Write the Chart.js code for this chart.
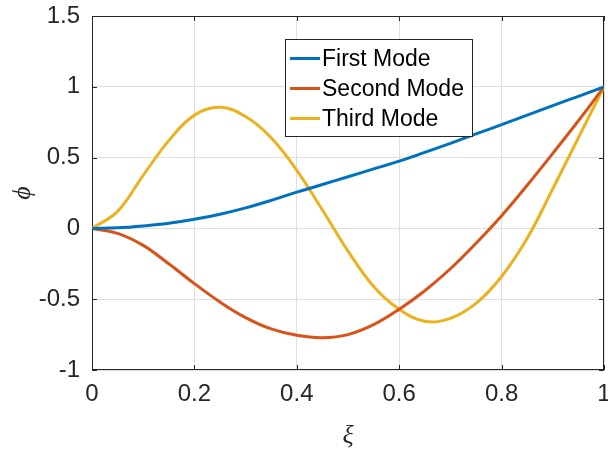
<!DOCTYPE html>
<html>
<head>
<meta charset="utf-8">
<script src="https://cdn.jsdelivr.net/npm/chart.js@4.4.1/dist/chart.umd.min.js"></script>
<style>
  html, body { margin: 0; padding: 0; background: #fff; }
  #wrap { width: 608px; height: 456px; }
</style>
</head>
<body>
<div id="wrap"><canvas id="modeChart" width="608" height="456"></canvas></div>
<script>
// xi positions (every 0.05)
const xi = [0, 0.05, 0.1, 0.15, 0.2, 0.25, 0.3, 0.35, 0.4, 0.45, 0.5,
            0.55, 0.6, 0.65, 0.7, 0.75, 0.8, 0.85, 0.9, 0.95, 1];
const firstMode = [0, 0.004, 0.017, 0.036, 0.064, 0.10, 0.145, 0.198, 0.256, 0.31, 0.365,
                   0.42, 0.475, 0.537, 0.601, 0.667, 0.733, 0.80, 0.867, 0.933, 1];
const secondMode = [0, -0.035, -0.12, -0.25, -0.39, -0.52, -0.63, -0.71, -0.755, -0.772, -0.75,
                    -0.68, -0.571, -0.44, -0.285, -0.105, 0.09, 0.305, 0.53, 0.76, 1];
const thirdMode = [0, 0.12, 0.375, 0.62, 0.80, 0.855, 0.79, 0.64, 0.41, 0.13, -0.16,
                   -0.41, -0.571, -0.655, -0.635, -0.53, -0.34, -0.07, 0.28, 0.64, 1];
const seriesNames = ['First Mode', 'Second Mode', 'Third Mode'];
const seriesColors = ['#0072BD', '#D95319', '#EDB120'];
const xTicks = [0, 0.2, 0.4, 0.6, 0.8, 1];
const yTicks = [-1, -0.5, 0, 0.5, 1, 1.5];

const toPoints = (ys) => ys.map((y, i) => ({ x: xi[i], y: y }));
const fmt = (v) => String(parseFloat(Number(v).toFixed(2)));

// frame box + inward ticks like matlab axes
const boxPlugin = {
  id: 'boxPlugin',
  beforeDatasetsDraw(chart) {
    const { ctx, chartArea: a, scales } = chart;
    ctx.save();
    ctx.strokeStyle = '#262626';
    ctx.lineWidth = 1;
    ctx.strokeRect(a.left + 0.5, a.top + 0.5, a.right - a.left - 1, a.bottom - a.top - 1);
    ctx.beginPath();
    scales.x.ticks.forEach(t => {
      const px = Math.round(scales.x.getPixelForValue(t.value)) + 0.5;
      ctx.moveTo(px, a.bottom); ctx.lineTo(px, a.bottom - 5);
      ctx.moveTo(px, a.top); ctx.lineTo(px, a.top + 5);
    });
    scales.y.ticks.forEach(t => {
      const py = Math.round(scales.y.getPixelForValue(t.value)) + 0.5;
      ctx.moveTo(a.left, py); ctx.lineTo(a.left + 5, py);
      ctx.moveTo(a.right, py); ctx.lineTo(a.right - 5, py);
    });
    ctx.stroke();
    ctx.restore();
  },
  afterDraw(chart) {
    // legend box inside the axes
    const ctx = chart.ctx;
    const bx = 285, by = 39, bw = 187, bh = 97;
    ctx.save();
    ctx.fillStyle = '#fff';
    ctx.fillRect(bx, by, bw, bh);
    ctx.strokeStyle = '#262626';
    ctx.lineWidth = 1;
    ctx.strokeRect(bx + 0.5, by + 0.5, bw, bh);
    ctx.font = '23px "Liberation Sans", Arial, sans-serif';
    ctx.textBaseline = 'middle';
    chart.data.datasets.forEach((ds, i) => {
      const y = by + 19.5 + i * 30;
      ctx.strokeStyle = ds.borderColor;
      ctx.lineWidth = 3;
      ctx.beginPath();
      ctx.moveTo(bx + 5, y); ctx.lineTo(bx + 35, y);
      ctx.stroke();
      ctx.fillStyle = '#000';
      ctx.fillText(ds.label, bx + 37, y + 1);
    });
    ctx.restore();
  }
};

const ctx = document.getElementById('modeChart').getContext('2d');

const modeChart = new Chart(ctx, {
  type: 'line',
  data: {
    datasets: [firstMode, secondMode, thirdMode].map((ys, i) => ({
      label: seriesNames[i],
      data: toPoints(ys),
      borderColor: seriesColors[i],
      backgroundColor: seriesColors[i],
      borderWidth: 3,
      pointRadius: 0,
      tension: 0.4,
      fill: false,
    })),
  },
  options: {
    responsive: false,
    animation: false,
    devicePixelRatio: 1,
    layout: { padding: { left: 0, right: 4, top: 16, bottom: 0 } },
    plugins: {
      legend: { display: false },
      tooltip: { enabled: false },
    },
    scales: {
      x: {
        type: 'linear',
        min: 0,
        max: 1,
        afterBuildTicks(scale) { scale.ticks = xTicks.map(v => ({ value: v })); },
        ticks: {
          color: '#262626',
          padding: 10,
          maxRotation: 0,
          autoSkip: false,
          callback: (v) => fmt(v),
          font: { family: '"Liberation Sans", Arial, sans-serif', size: 24 },
        },
        grid: { color: '#dfdfdf', drawTicks: false, tickLength: 0 },
        border: { display: false },
        title: {
          display: true,
          text: 'ξ',
          color: '#262626',
          padding: { top: 4, bottom: 4 },
          font: { family: '"Liberation Serif", serif', size: 26, style: 'italic' },
        },
        afterFit(scale) {
          scale.height = 86;
          scale.paddingLeft = 0;
          scale.paddingRight = 0;
        },
      },
      y: {
        type: 'linear',
        min: -1,
        max: 1.5,
        afterBuildTicks(scale) { scale.ticks = yTicks.map(v => ({ value: v })); },
        ticks: {
          color: '#262626',
          padding: 12,
          autoSkip: false,
          callback: (v) => fmt(v),
          font: { family: '"Liberation Sans", Arial, sans-serif', size: 24 },
        },
        grid: { color: '#dfdfdf', drawTicks: false, tickLength: 0 },
        border: { display: false },
        title: {
          display: true,
          text: 'ϕ',
          color: '#262626',
          padding: { top: 8, bottom: 8 },
          font: { family: '"Liberation Serif", serif', size: 26, style: 'italic' },
        },
        afterFit(scale) {
          scale.width = 92;
          scale.paddingTop = 0;
          scale.paddingBottom = 0;
        },
      },
    },
  },
  plugins: [boxPlugin],
});
</script>
</body>
</html>
